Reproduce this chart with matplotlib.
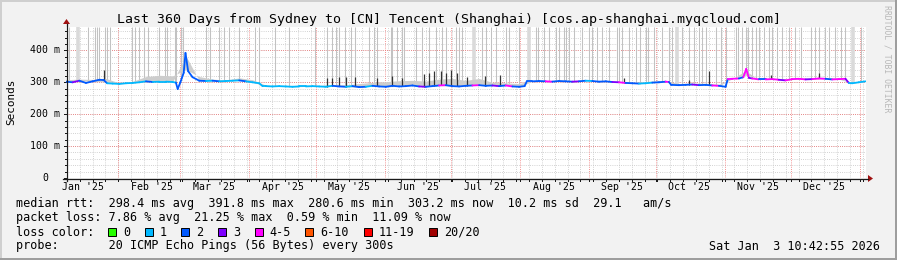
import matplotlib

matplotlib.use("Agg")
import matplotlib.pyplot as plt
import numpy as np
from matplotlib.collections import LineCollection
from matplotlib.lines import Line2D
from matplotlib.patches import Polygon, Rectangle
from matplotlib.transforms import blended_transform_factory

W, H = 897, 260
START = np.datetime64("2025-01-08T10:42:55")

# median rtt: sample day (since start), value in ms, packet-loss class
median_days = [
    0, 3, 6, 9, 12, 15, 17, 18.5, 21, 24, 27,
    30, 33, 36, 39, 42, 45, 48, 49.5, 50.3, 51.5, 53, 53.8, 55, 57,
    60, 63, 66, 69, 72, 75, 78, 81, 84, 87, 88.5,
    90, 93, 96, 99, 102, 105, 108, 111, 114, 117,
    120, 123, 126, 129, 132, 135, 138, 141, 144, 147,
    150, 153, 156, 159, 162, 165, 168, 171, 174, 177,
    180, 183, 186, 189, 192, 195, 198, 201, 204, 206.5, 207.5,
    210, 213, 216, 219, 222, 225, 228, 231, 234, 237,
    240, 243, 246, 249, 252, 255, 258, 261, 264, 267,
    270, 271.5, 272.5, 276, 279, 282, 285, 288, 291, 294, 297, 298,
    300, 303, 305, 306.3, 307.5, 309, 312, 315, 318, 321, 324, 327,
    330, 333, 336, 339, 342, 345, 348, 351, 352.5, 354, 357, 360,
]
median_ms = [
    302, 300, 305, 298, 303, 308, 307, 297, 296, 295, 297,
    298, 300, 303, 301, 302, 302, 301, 299, 279, 300, 330, 392, 335, 316,
    305, 304, 305, 303, 304, 305, 306, 303, 300, 297, 288,
    288, 287, 288, 287, 286, 287, 287, 288, 287, 286,
    289, 287, 286, 288, 285, 286, 289, 287, 286, 289,
    287, 288, 290, 287, 286, 288, 290, 291, 288, 287,
    289, 290, 291, 289, 290, 288, 290, 287, 286, 288, 303,
    303, 304, 303, 302, 304, 303, 302, 303, 305, 304,
    302, 303, 301, 300, 298, 297, 296, 297, 299, 300,
    302, 301, 292, 291, 292, 293, 291, 292, 290, 289, 286, 310,
    311, 312, 316, 342, 314, 312, 309, 309, 310, 308, 306, 310,
    311, 309, 310, 312, 311, 309, 310, 311, 298, 297, 300, 303,
]
loss_class = [
    2, 3, 2, 2, 2, 2, 2, 1, 1, 1, 1,
    1, 1, 2, 1, 1, 1, 1, 2, 2, 2, 2, 2, 2, 2,
    2, 1, 2, 1, 1, 1, 2, 1, 1, 1, 1,
    1, 1, 1, 1, 1, 1, 1, 1, 1, 1,
    2, 2, 1, 2, 2, 1, 2, 2, 2, 2,
    2, 2, 2, 3, 2, 2, 4, 2, 2, 2,
    2, 4, 2, 2, 3, 2, 4, 2, 2, 2, 2,
    2, 2, 4, 2, 2, 2, 3, 2, 1, 2,
    2, 2, 3, 4, 2, 2, 1, 1, 2, 2,
    4, 2, 2, 2, 2, 3, 2, 2, 4, 2, 2, 4,
    4, 2, 4, 4, 3, 4, 2, 4, 4, 3, 4, 4,
    4, 3, 4, 4, 2, 4, 4, 3, 1, 1, 1, 2,
]
# upper edge of the grey smoke, on a 6-day grid (ms)
smoke_days = [
    0, 6, 12, 18, 24, 30, 36, 42, 48, 54, 60, 66, 72, 78, 84, 90, 96, 102, 108, 114,
    120, 126, 132, 138, 144, 150, 156, 162, 168, 174, 180, 186, 192, 198, 204, 210,
    216, 222, 228, 234, 240, 246, 252, 258, 264, 270, 276, 282, 288, 294, 300, 306,
    312, 318, 324, 330, 336, 342, 348, 354, 360,
]
smoke_hi_ms = [
    308, 310, 309, 312, 298, 303, 318, 322, 320, 340, 318, 310, 307, 314, 308, 291, 290, 290, 291, 290,
    293, 292, 296, 300, 302, 305, 306, 304, 310, 312, 306, 312, 300, 298, 296, 306,
    306, 307, 305, 307, 305, 305, 302, 300, 304, 306, 296, 298, 297, 294, 314, 322,
    313, 313, 311, 314, 314, 315, 314, 300, 305,
]
# full-height smoke columns (days since start)
spike_days = [
    1.4, 9.9, 13.1, 14.0, 14.9, 17.6, 18.5, 19.8, 29.7, 31.1, 32.9, 35.1, 36.9,
    41.9, 44.6, 45.5, 49.1, 49.5, 51.8, 52.7, 63.0, 64.8, 68.9, 71.1, 73.4, 77.9,
    85.1, 86.9, 94.1, 100.4, 112.1, 117.5, 119.7, 121.5, 122.9, 125.6, 128.3,
    130.1, 136.4, 138.6, 140.0, 146.3, 146.7, 149.0, 151.2, 152.1, 157.5, 160.2,
    163.4, 166.5, 169.2, 171.0, 175.5, 176.9, 178.2, 187.2, 189.0, 191.3, 193.5,
    198.0, 199.4, 203.9, 211.5, 212.4, 215.1, 217.4, 220.5, 221.9, 224.1, 225.0,
    226.4, 228.6, 232.2, 235.4, 236.7, 239.0, 241.2, 244.3, 247.9, 248.8, 250.2,
    253.3, 256.5, 258.7, 261.0, 262.3, 264.6, 268.2, 271.4, 272.7, 277.2, 280.4,
    282.6, 284.9, 286.2, 288.0, 292.5, 294.8, 297.0, 301.5, 302.8, 304.2, 306.0,
    307.3, 308.7, 310.5, 311.9, 314.1, 316.4, 317.7, 320.0, 322.2, 325.4, 328.5,
    331.2, 335.3, 337.5, 338.9, 342.0, 343.4, 346.5, 348.8, 351.0, 358.2,
]
band_days = [5.4, 183.6, 208.4, 275.0, 354.6]
dark_spike_days = [
    17.1, 117.5, 119.8, 122.9, 126.1, 130.1, 140.0, 146.8, 151.3, 161.2, 163.5,
    165.7, 168.9, 171.1, 173.4, 176.1, 180.6, 188.7, 195.4, 251.3, 280.5, 289.5,
    317.5, 339.1,
]
dark_spike_ms = [
    338, 315, 312, 316, 318, 318, 315, 320, 312, 325, 330,
    335, 335, 328, 338, 328, 318, 320, 323, 313, 308, 336,
    323, 329,
]

loss_labels = ["0", "1", "2", "3", "4-5", "6-10", "11-19", "20/20"]
loss_colors = ["#26ff00", "#00b8ff", "#0059ff", "#7e00ff", "#ff00ff",
               "#ff5500", "#ff0000", "#a00000"]
month_labels = ["Jan '25", "Feb '25", "Mar '25", "Apr '25", "May '25", "Jun '25",
                "Jul '25", "Aug '25", "Sep '25", "Oct '25", "Nov '25", "Dec '25"]
y_ticks = [0, 100, 200, 300, 400]
y_tick_labels = ["0", "100 m", "200 m", "300 m", "400 m"]

legend_rows = [
    "median rtt:  298.4 ms avg  391.8 ms max  280.6 ms min  303.2 ms now  10.2 ms sd  29.1   am/s",
    "packet loss: 7.86 % avg  21.25 % max  0.59 % min  11.09 % now",
    "loss color:",
    "probe:       20 ICMP Echo Pings (56 Bytes) every 300s",
]
title = "Last 360 Days from Sydney to [CN] Tencent (Shanghai) [cos.ap-shanghai.myqcloud.com]"
stamp = "Sat Jan  3 10:42:55 2026"

MONO = "DejaVu Sans Mono"
PX_PER_DAY = 2.2207
X0, X1, Y_TOP, Y_BOT = 66, 866, 27, 178
YMAX = (Y_BOT - Y_TOP) / 0.319


def fx(px):
    return px / W


def fy(py):
    return 1 - py / H


def day_of(date_str):
    return (np.datetime64(date_str) - START) / np.timedelta64(1, "D")


fig = plt.figure(figsize=(W / 100, H / 100), dpi=100, facecolor="#f2f2f2")

# 3d frame
fig.add_artist(Rectangle((0, fy(2)), 1, 2 / H, transform=fig.transFigure, color="#cfcfcf", lw=0))
fig.add_artist(Rectangle((0, 0), 2 / W, 1, transform=fig.transFigure, color="#cfcfcf", lw=0))
fig.add_artist(Rectangle((0, 0), 1, 2 / H, transform=fig.transFigure, color="#9e9e9e", lw=0))
fig.add_artist(Rectangle((1 - 2 / W, 0), 2 / W, 1, transform=fig.transFigure, color="#9e9e9e", lw=0))

ax = fig.add_axes([fx(X0), fy(Y_BOT), (X1 - X0) / W, (Y_BOT - Y_TOP) / H])
ax.set_facecolor("white")
ax.set_xlim(0, (X1 - X0) / PX_PER_DAY)
ax.set_ylim(0, YMAX)
for s in ax.spines.values():
    s.set_visible(False)
ax.tick_params(which="both", length=0, labelbottom=False, labelleft=False)

# grid (1px on / 1px off dots)
month_starts = [day_of(f"2025-{m:02d}-01") for m in range(2, 13)] + [day_of("2026-01-01")]
minor_x = np.arange(day_of("2025-02-01") - 4 * 5.78, 361, 5.78)
dot = (0, (1, 1.6))
ax.vlines(minor_x, 0, YMAX, colors="#c4c4c4", lw=0.6, linestyles=dot, zorder=1)
ax.hlines(np.arange(20, YMAX, 20), 0, 361, colors="#c4c4c4", lw=0.6, linestyles=dot, zorder=1)
ax.vlines(month_starts, 0, YMAX, colors="#f07070", lw=0.6, linestyles=dot, zorder=2)
ax.hlines(y_ticks[1:], 0, 361, colors="#f07070", lw=0.6, linestyles=dot, zorder=2)

# smoke
spike_bottom = np.interp(spike_days, median_days, median_ms)
ax.vlines(spike_days, spike_bottom, YMAX, colors="#c2c2c2", lw=0.75, zorder=3)
band_bottom = np.interp(band_days, median_days, median_ms)
ax.vlines(band_days, band_bottom, YMAX, colors="#dadada", lw=2.6, zorder=3)
smoke_lo = np.interp(smoke_days, median_days, median_ms)
ax.fill_between(smoke_days, smoke_lo, smoke_hi_ms, color="#cdcdcd", lw=0, zorder=4)
dark_bottom = np.interp(dark_spike_days, median_days, median_ms)
ax.vlines(dark_spike_days, dark_bottom, dark_spike_ms, colors="#333333", lw=0.9, zorder=5)

# median line coloured by loss
pts = np.column_stack([median_days, median_ms])
segs = np.stack([pts[:-1], pts[1:]], axis=1)
lc = LineCollection(segs, colors=[loss_colors[c] for c in loss_class[:-1]],
                    linewidths=1.3, capstyle="round", zorder=6)
ax.add_collection(lc)

# axes lines, ticks, arrows
axis_c = "#1a1a1a"
fig.add_artist(Line2D([fx(63), fx(868)], [fy(178.5)] * 2, color=axis_c, lw=0.9))
fig.add_artist(Line2D([fx(66.5)] * 2, [fy(181), fy(24)], color=axis_c, lw=0.9))
fig.add_artist(Polygon([[fx(868), fy(175)], [fx(873), fy(178.5)], [fx(868), fy(182)]],
                       closed=True, transform=fig.transFigure, color="#a01010", lw=0))
fig.add_artist(Polygon([[fx(63), fy(24)], [fx(66.5), fy(19)], [fx(70), fy(24)]],
                       closed=True, transform=fig.transFigure, color="#a01010", lw=0))

ytr = blended_transform_factory(fig.transFigure, ax.transData)
xtr = blended_transform_factory(ax.transData, fig.transFigure)
for v in np.arange(0, YMAX, 20):
    ln = 3 if v % 100 == 0 else 2
    ax.add_line(Line2D([fx(66.5 - ln), fx(66.5)], [v, v], transform=ytr, color=axis_c,
                       lw=0.72, clip_on=False))
for d in list(minor_x[minor_x >= 0]) + month_starts:
    ax.add_line(Line2D([d, d], [fy(178.5), fy(181)], transform=xtr, color=axis_c,
                       lw=0.72, clip_on=False))

for v, lab in zip(y_ticks, y_tick_labels):
    xr = 48 if lab == "0" else 60
    ax.text(fx(xr), v, lab, transform=ytr, ha="right", va="center",
            family=MONO, fontsize=7.1, clip_on=False)

label_days = [day_of(f"2025-{m:02d}-16") for m in range(1, 13)]
for d, lab in zip(label_days, month_labels):
    ax.text(d, fy(187.5), lab, transform=xtr, ha="center", va="center",
            family=MONO, fontsize=7.1, clip_on=False)

fig.text(fx(11), fy(102), "Seconds", rotation=90, ha="center", va="center",
         family=MONO, fontsize=7.9)
fig.text(fx(448.5), fy(19), title, ha="center", va="center", family=MONO, fontsize=9.5)
fig.text(fx(886.5), fy(59), "RRDTOOL / TOBI OETIKER", rotation=270, ha="center",
         va="center", family=MONO, fontsize=5.9, color="#b8b8b8")

row_y = [204, 218, 232, 246]
for y, row in zip(row_y, legend_rows):
    fig.text(fx(16), fy(y), row, ha="left", va="center", family=MONO, fontsize=8.5)
fig.text(fx(880), fy(246), stamp, ha="right", va="center", family=MONO, fontsize=8.5)

# loss colour boxes
bx = 108
for lab, col in zip(loss_labels, loss_colors):
    fig.add_artist(Rectangle((fx(bx), fy(236)), 8 / W, 8 / H, transform=fig.transFigure,
                             facecolor=col, edgecolor="black", lw=0.7))
    fig.text(fx(bx + 15), fy(232), lab, ha="left", va="center", family=MONO, fontsize=8.5)
    bx += 15 + len(lab) * 7.14 + 14.5

fig.savefig("out.png", dpi=100, facecolor=fig.get_facecolor())
